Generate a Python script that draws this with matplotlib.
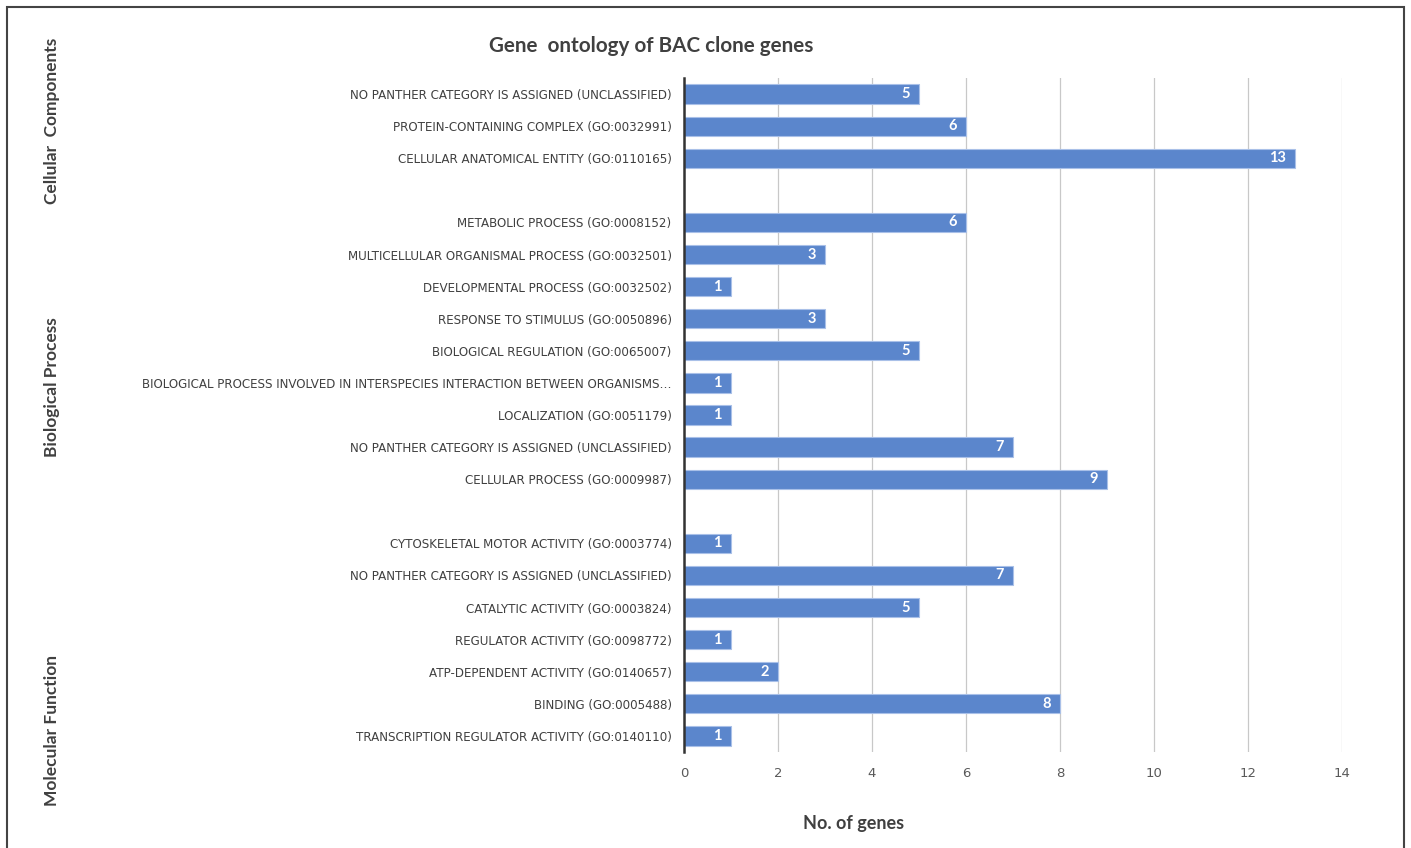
import matplotlib.pyplot as plt
from matplotlib.patches import Rectangle

# data (top to bottom)
cc_labels = ['NO PANTHER CATEGORY IS ASSIGNED (UNCLASSIFIED)',
             'PROTEIN-CONTAINING COMPLEX (GO:0032991)',
             'CELLULAR ANATOMICAL ENTITY (GO:0110165)']
cc_values = [5, 6, 13]

bp_labels = ['METABOLIC PROCESS (GO:0008152)',
             'MULTICELLULAR ORGANISMAL PROCESS (GO:0032501)',
             'DEVELOPMENTAL PROCESS (GO:0032502)',
             'RESPONSE TO STIMULUS (GO:0050896)',
             'BIOLOGICAL REGULATION (GO:0065007)',
             'BIOLOGICAL PROCESS INVOLVED IN INTERSPECIES INTERACTION BETWEEN ORGANISMS\u2026',
             'LOCALIZATION (GO:0051179)',
             'NO PANTHER CATEGORY IS ASSIGNED (UNCLASSIFIED)',
             'CELLULAR PROCESS (GO:0009987)']
bp_values = [6, 3, 1, 3, 5, 1, 1, 7, 9]

mf_labels = ['CYTOSKELETAL MOTOR ACTIVITY (GO:0003774)',
             'NO PANTHER CATEGORY IS ASSIGNED (UNCLASSIFIED)',
             'CATALYTIC ACTIVITY (GO:0003824)',
             'REGULATOR ACTIVITY (GO:0098772)',
             'ATP-DEPENDENT ACTIVITY (GO:0140657)',
             'BINDING (GO:0005488)',
             'TRANSCRIPTION REGULATOR ACTIVITY (GO:0140110)']
mf_values = [1, 7, 5, 1, 2, 8, 1]

group_names = ['Cellular  Components', 'Biological Process', 'Molecular Function']
x_ticks = [0, 2, 4, 6, 8, 10, 12, 14]

# one blank slot between the groups
labels = cc_labels + [''] + bp_labels + [''] + mf_labels
values = cc_values + [None] + bp_values + [None] + mf_values

W, H = 1411, 848
fig = plt.figure(figsize=(W / 100, H / 100), dpi=100)
font = 'Liberation Sans Narrow'
bold_font = 'Lato'
txt_col = '#404040'

ax = fig.add_axes([684 / W, 1 - 752 / H, (1342 - 684) / W, (752 - 78) / H])

pos = [i for i, v in enumerate(values) if v is not None]
vals = [v for v in values if v is not None]
ax.barh(pos, vals, height=0.6, color='#5b86cc', edgecolor='#a9c0e8',
        linewidth=0.8, zorder=3)
for p, v in zip(pos, vals):
    ax.text(v - 0.2, p, str(v), ha='right', va='center', color='white',
            fontsize=10.5, fontweight='bold', family=bold_font, zorder=4)

ax.set_ylim(len(values) - 0.5, -0.5)
ax.set_xlim(0, 14)
ax.set_yticks(range(len(labels)))
ax.set_yticklabels(labels, family=font, fontsize=8.6, color=txt_col)
ax.set_xticks(x_ticks)
ax.set_xticklabels([str(t) for t in x_ticks], family=font, fontsize=9.5,
                   color='#595959')
ax.tick_params(axis='both', length=0)
ax.tick_params(axis='y', pad=9)
ax.tick_params(axis='x', pad=11)
ax.grid(axis='x', color='#c8c8c8', linewidth=0.9, zorder=0)
for s in ['top', 'right', 'bottom']:
    ax.spines[s].set_visible(False)
ax.spines['left'].set_color('#333333')
ax.spines['left'].set_linewidth(1.8)
ax.spines['left'].set_zorder(5)

fig.text(651 / W, 1 - 46 / H, 'Gene  ontology of BAC clone genes', ha='center',
         va='center', fontsize=14.9, fontweight='bold', color=txt_col,
         family=bold_font)
fig.text(854 / W, 1 - 824 / H, 'No. of genes', ha='center', va='center',
         fontsize=13, fontweight='bold', color=txt_col, family=bold_font)

for name, yc in zip(group_names, [121, 387, 730]):
    fig.text(52 / W, 1 - yc / H, name, rotation=90, ha='center', va='center',
             fontsize=12.5, fontweight='bold', color=txt_col, family=bold_font)

# outer frame of the picture
fig.patches.append(Rectangle((7 / W, -0.05), (1404 - 7) / W, 1.05 - 7 / H,
                             transform=fig.transFigure, fill=False,
                             edgecolor='#444444', linewidth=1.5))

fig.savefig('out.png', dpi=100)
